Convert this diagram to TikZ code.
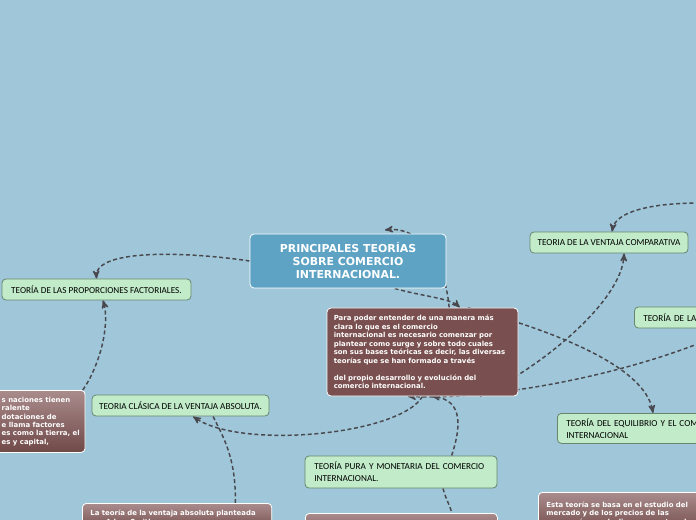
\documentclass[tikz,border=0pt]{standalone}
\usepackage{fontspec}
\setmainfont{DejaVu Sans}
\newfontfamily\mintfont{Carlito}
\usepackage{tikz}
\usetikzlibrary{shapes, arrows, positioning, backgrounds}
\definecolor{skyback}{RGB}{159,199,217}
\definecolor{centralblue}{RGB}{94,163,196}
\definecolor{descbrown}{RGB}{122,79,79}
\definecolor{mauvetop}{RGB}{170,140,140}
\definecolor{mauvebot}{RGB}{112,72,72}
\definecolor{mintfill}{RGB}{193,235,201}
\definecolor{mintline}{RGB}{104,134,110}
\definecolor{linkgray}{RGB}{72,72,78}
\pgfdeclarelayer{links}
\pgfsetlayers{links,main}
\tikzset{
    centralbox/.style={draw=white, fill=centralblue, rounded corners=3pt, line width=0.6pt,
        text=white, align=center, font=\bfseries\fontsize{8.2}{9.75}\selectfont},
    descbox/.style={draw=white, fill=descbrown, rounded corners=3pt, line width=0.6pt,
        text=white, align=left, font=\bfseries\fontsize{5.2}{6.4}\selectfont},
    topicbox/.style={draw=mintline, fill=mintfill, rounded corners=3pt, line width=0.6pt,
        text=black, font=\mintfont\fontsize{6.9}{9}\selectfont, inner ysep=2pt},
    notebox/.style={draw=white, line width=0.6pt, rounded corners=3pt, top color=mauvetop,
        bottom color=mauvebot, text=white, align=left, inner xsep=4pt, inner ysep=4pt,
        font=\bfseries\fontsize{5.2}{6.3}\selectfont},
    link/.style={draw=linkgray, line width=1.1pt, dash pattern=on 3pt off 2pt}
}

\begin{document}
\begin{tikzpicture}[x=0.75pt, y=-0.75pt, >=stealth']
    \useasboundingbox (0,0) rectangle (696,520);
    \clip (0,0) rectangle (696,520);
    % Central topic and its note
    \node[centralbox, minimum width=147pt, minimum height=40.5pt] (central) at (348,261)
        {PRINCIPALES TEORÍAS\\SOBRE COMERCIO\\INTERNACIONAL.};
    \node[descbox, minimum width=143.25pt, minimum height=66pt, text width=133pt, inner xsep=5.1pt]
        (desc) at (422.5,352)
        {Para poder entender de una manera más\\
         clara lo que es el comercio\\
         internacional es necesario comenzar por\\
         plantear como surge y sobre todo cuales\\
         son sus bases teóricas es decir, las diversas\\
         teorías que se han formado a través\\[6.4pt]
         del propio desarrollo y evolución del\\
         comercio internacional.};
    % Theories
    \node[topicbox, minimum width=141.75pt, minimum height=15.75pt] (factorial) at (96.5,289.5)
        {TEORÍA DE LAS PROPORCIONES FACTORIALES.};
    \node[topicbox, minimum width=132.75pt, minimum height=15.75pt] (classic) at (180.5,405.5)
        {TEORIA CLÁSICA DE LA VENTAJA ABSOLUTA.};
    \node[topicbox, minimum width=118.5pt, minimum height=15.75pt] (comparative) at (609,242.5)
        {TEORIA DE LA VENTAJA COMPARATIVA};
    \node[topicbox, anchor=west, text width=100pt, align=left, inner xsep=6.75pt,
        minimum height=15.75pt] (reciprocal) at (634,317.5) {TEORÍA DE LA};
    \node[topicbox, anchor=north west, text width=190pt, align=left, inner xsep=6.75pt,
        minimum height=22.5pt] (equilibrium) at (557,413)
        {TEORÍA DEL EQUILIBRIO Y EL COMERCIO\\INTERNACIONAL};
    \node[topicbox, text width=130pt, align=left, inner xsep=7pt, minimum height=24pt]
        (pure) at (401,472) {TEORÍA PURA Y MONETARIA DEL COMERCIO\\INTERNACIONAL.};
    % Notes
    \node[notebox, anchor=north west, minimum height=46.5pt] (leftnote) at (-4,390)
        {s naciones tienen\\ralente\\dotaciones de\\e llama factores\\es como la tierra, el\\es y capital,};
    \node[notebox, anchor=north west, text width=130pt, inner xsep=6pt, inner ysep=5pt] (absolute) at (82,503)
        {La teoría de la ventaja absoluta planteada\\por Adam Smith};
    \node[notebox, anchor=north west, minimum width=144pt, minimum height=20pt] (puremoney) at (305,513) {};
    \node[notebox, anchor=north west, text width=150pt, inner xsep=6pt, inner ysep=7pt] (market) at (538,492)
        {Esta teoría se basa en el estudio del\\mercado y de los precios de las\\mercancías en declive, concentrando};
    % Loose ends
    \coordinate (eastlink) at (700,343);
    \coordinate (northeastlink) at (700,203);
    \coordinate (looptip) at (385,230);
    % Connectors
    \begin{pgfonlayer}{links}
        \fill[skyback] (0,0) rectangle (696,520);
        \draw[link,->] (central.west) .. controls (190,252) and (95,248) .. (factorial.north);
        \draw[link,->] ([xshift=35pt]central.south) .. controls (420,296) and (450,298) .. ([xshift=28pt]desc.north);
        \draw[link,->] ([xshift=20pt]desc.north) .. controls (445,260) and (420,226) .. (looptip);
        \draw[link,->] ([xshift=34pt]desc.north) .. controls (550,330) and (645,365) .. ([xshift=72pt]equilibrium.north west);
        \draw[link,->] (desc.south) .. controls (400,435) and (240,450) .. ([xshift=9.4pt]classic.south);
        \draw[link,->] ([xshift=38pt]pure.north) .. controls (460,430) and (465,400) .. ([xshift=7pt]desc.south);
        \draw[link,->] (eastlink) .. controls (610,378) and (490,400) .. ([xshift=-10.9pt]desc.south);
        \draw[link,->] ([xshift=43pt]desc.south) .. controls (545,365) and (622,300) .. ([xshift=11.3pt]comparative.south);
        \draw[link,->] (northeastlink) .. controls (650,203) and (615,212) .. ([xshift=2.3pt]comparative.north);
        \draw[link,->] ([xshift=-2pt]leftnote.north east) .. controls (100,365) and (110,325) .. ([xshift=4.9pt]factorial.south);
        \draw[link] ([xshift=24.4pt]classic.south) .. controls (225,440) and (236,460) .. ([xshift=115pt]absolute.north west);
        \draw[link] ([xshift=31.5pt]pure.south) .. controls (446,500) and (450,505) .. ([xshift=110pt]puremoney.north west);
    \end{pgfonlayer}
\end{tikzpicture}
\end{document}
